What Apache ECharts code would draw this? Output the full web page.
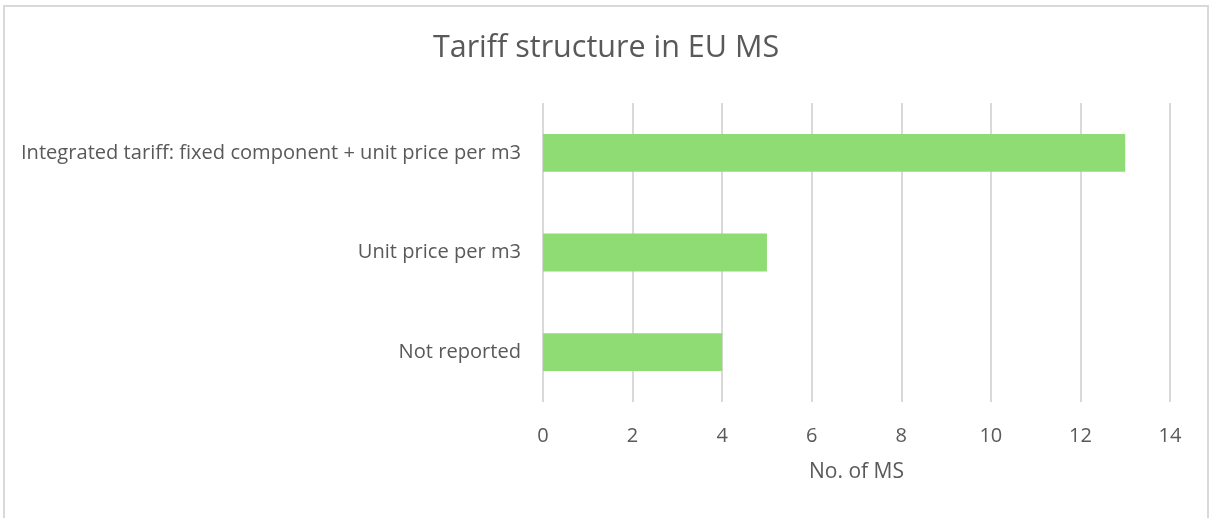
<!DOCTYPE html>
<html>
<head>
<meta charset="utf-8">
<script src="https://cdn.jsdelivr.net/npm/echarts@6/dist/echarts.min.js"></script>
<style>
  html, body { margin: 0; padding: 0; background: #fff; }
  #frame { position: absolute; left: 3px; top: 5px; width: 1206px; height: 520px; border: 2px solid #d9d9d9; box-sizing: border-box; }
  #chart { position: absolute; left: 0; top: 0; width: 1212px; height: 518px; }
</style>
</head>
<body>
<div id="frame"></div>
<div id="chart"></div>
<script>
const categories = [
  'Integrated tariff: fixed component + unit price per m3',
  'Unit price per m3',
  'Not reported'
];
const memberStates = [13, 5, 4];
const xTicks = [0, 2, 4, 6, 8, 10, 12, 14];

const font = '"Open Sans", "Noto Sans", sans-serif';
const chart = echarts.init(document.getElementById('chart'), null, { renderer: 'canvas' });
chart.setOption({
  animation: false,
  title: {
    text: 'Tariff structure in EU MS',
    left: 'center',
    top: 28,
    textStyle: { fontFamily: font, fontSize: 30.5, fontWeight: 'normal', color: '#595959' }
  },
  grid: { left: 543, right: 42, top: 103, bottom: 116, containLabel: false },
  xAxis: {
    type: 'value',
    min: xTicks[0],
    max: xTicks[xTicks.length - 1],
    interval: 2,
    name: 'No. of MS',
    nameLocation: 'middle',
    nameGap: 60,
    nameTextStyle: { fontFamily: font, fontSize: 21, color: '#595959' },
    axisLine: { show: false },
    axisTick: { show: false },
    axisLabel: { fontFamily: font, fontSize: 20, color: '#595959', margin: 24 },
    splitLine: { show: true, lineStyle: { color: '#d9d9d9', width: 2 } }
  },
  yAxis: {
    type: 'category',
    inverse: true,
    data: categories,
    axisLine: { show: false },
    axisTick: { show: false },
    axisLabel: { fontFamily: font, fontSize: 20.1, color: '#595959', margin: 22 }
  },
  series: [{
    type: 'bar',
    data: memberStates,
    barCategoryGap: '62%',
    itemStyle: { color: '#8fdb74' }
  }]
});
</script>
</body>
</html>
